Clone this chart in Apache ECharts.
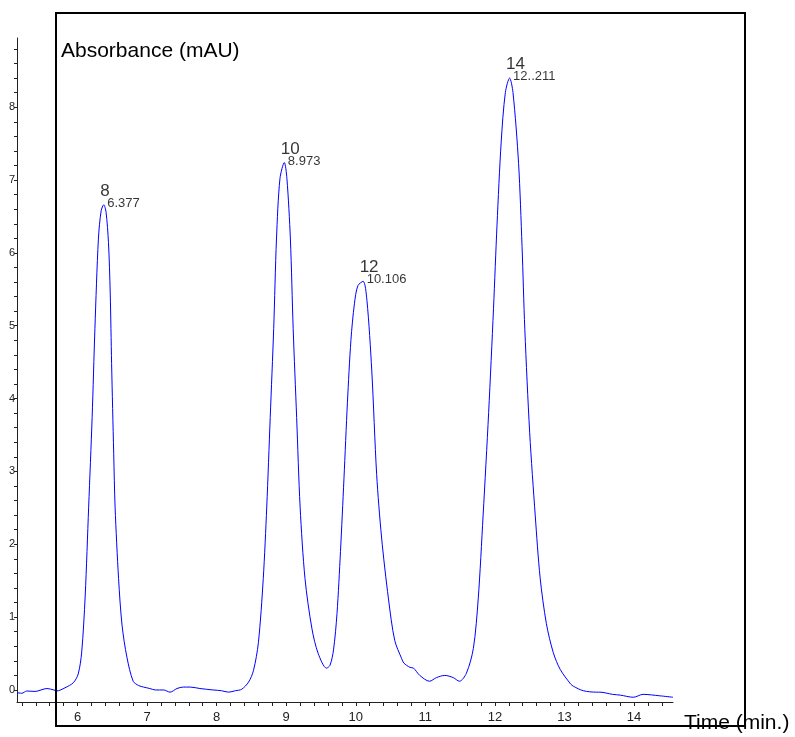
<!DOCTYPE html>
<html>
<head>
<meta charset="utf-8">
<script src="https://cdn.jsdelivr.net/npm/echarts@6/dist/echarts.min.js"></script>
<style>
html,body{margin:0;padding:0;background:#fff;}
#chart{width:795px;height:737px;}
</style>
</head>
<body>
<div id="chart"></div>
<script>
// Retention time (min.)
const times = [5.13,5.20,5.27,5.39,5.56,5.66,5.70,5.82,5.94,6.01,6.06,6.11,6.16,6.21,6.25,6.30,6.34,6.377,6.41,6.445,6.47,6.49,6.52,6.54,6.59,6.64,6.71,6.80,6.88,6.95,7.04,7.12,7.24,7.33,7.43,7.52,7.62,7.76,7.95,8.07,8.17,8.27,8.36,8.46,8.53,8.60,8.67,8.72,8.77,8.82,8.86,8.91,8.973,9.01,9.06,9.10,9.15,9.20,9.27,9.37,9.46,9.58,9.63,9.68,9.73,9.78,9.83,9.88,9.93,9.98,10.03,10.106,10.16,10.23,10.30,10.37,10.47,10.56,10.66,10.69,10.78,10.83,10.92,11.06,11.16,11.28,11.40,11.49,11.59,11.69,11.76,11.83,11.91,11.98,12.03,12.09,12.15,12.211,12.26,12.34,12.39,12.43,12.50,12.58,12.65,12.74,12.84,12.94,13.09,13.13,13.27,13.46,13.51,13.69,13.80,13.99,14.13,14.37,14.56];
// Absorbance (mAU)
const absorbance = [-0.037,-0.045,-0.014,-0.02,0.02,0.0,-0.014,0.03,0.10,0.22,0.52,1.29,2.51,3.74,4.96,6.19,6.58,6.66,6.56,6.14,5.45,4.48,3.25,2.51,1.53,0.89,0.45,0.12,0.06,0.04,0.02,0.0,0.0,-0.03,0.02,0.04,0.04,0.02,0.0,-0.01,-0.03,-0.01,0.01,0.11,0.27,0.65,1.53,2.51,3.74,4.96,6.19,7.02,7.24,7.02,6.19,4.96,3.74,2.51,1.53,0.84,0.50,0.30,0.34,0.55,1.05,1.9,2.9,3.95,4.8,5.3,5.55,5.61,5.35,4.38,2.96,2.10,1.25,0.68,0.43,0.37,0.31,0.30,0.20,0.12,0.17,0.20,0.17,0.12,0.23,0.57,1.25,2.39,3.81,5.24,6.38,7.52,8.20,8.40,8.20,7.23,6.09,4.95,3.53,2.39,1.54,0.91,0.51,0.28,0.08,0.05,-0.01,-0.03,-0.03,-0.06,-0.07,-0.10,-0.06,-0.08,-0.10];

// Peaks
const peakTimes = [6.377, 8.973, 10.106, 12.211];
const peakHeights = [6.66, 7.24, 5.61, 8.40];
const peakNumbers = ['8', '10', '12', '14'];
const peakTimeLabels = ['6.377', '8.973', '10.106', '12..211'];

// Axis ticks and labels
const xLabelValues = [6, 7, 8, 9, 10, 11, 12, 13, 14];
const yLabelValues = [0, 1, 2, 3, 4, 5, 6, 7, 8];
const xTickValues = [];
for (let i = 26; i <= 72; i++) xTickValues.push(Math.round(i * 2) / 10);
const yTickValues = [];
for (let i = 0; i <= 44; i++) yTickValues.push(Math.round(i * 2) / 10);

const FONT = 'Liberation Sans, Arial, Helvetica, sans-serif';
const chart = echarts.init(document.getElementById('chart'), null, {renderer: 'canvas'});

const lineData = times.map((t, i) => [t, absorbance[i]]);
const peakNumData = peakTimes.map((t, i) => ({value: [t, peakHeights[i]], name: peakNumbers[i]}));
const peakTimeData = peakTimes.map((t, i) => ({value: [t, peakHeights[i]], name: peakTimeLabels[i]}));

chart.setOption({
  animation: false,
  backgroundColor: '#fff',
  grid: {left: 17, top: 38, width: 656, height: 664, containLabel: false},
  xAxis: {
    type: 'value', min: 5.13, max: 14.56,
    axisLine: {show: true, onZero: false, lineStyle: {color: '#222', width: 1}},
    axisTick: {show: true, customValues: xTickValues, length: 4, lineStyle: {color: '#222'}},
    axisLabel: {customValues: xLabelValues, fontSize: 13, color: '#222', margin: 9, fontFamily: FONT},
    splitLine: {show: false}
  },
  yAxis: {
    type: 'value', min: -0.165, max: 8.95,
    axisLine: {show: true, onZero: false, lineStyle: {color: '#222', width: 1}},
    axisTick: {show: true, customValues: yTickValues, length: 3, lineStyle: {color: '#222'}},
    axisLabel: {customValues: yLabelValues, fontSize: 11, color: '#222', margin: 2, fontFamily: FONT},
    splitLine: {show: false}
  },
  series: [
    {
      type: 'line', data: lineData, showSymbol: false, smooth: 0.3,
      lineStyle: {color: '#0000ff', width: 1}, silent: true, z: 2
    },
    {
      type: 'scatter', data: peakNumData, symbolSize: 1, itemStyle: {color: 'rgba(0,0,0,0)'}, silent: true,
      label: {show: true, formatter: p => p.name, position: [-3, -13], align: 'left', verticalAlign: 'middle',
        fontSize: 17, color: '#000', fontFamily: FONT}
    },
    {
      type: 'scatter', data: peakTimeData, symbolSize: 1, itemStyle: {color: 'rgba(0,0,0,0)'}, silent: true,
      label: {show: true, formatter: p => p.name, position: [4, -1], align: 'left', verticalAlign: 'middle',
        fontSize: 13, color: '#000', fontFamily: FONT}
    }
  ],
  graphic: [
    {type: 'rect', shape: {x: 56, y: 13, width: 689, height: 713}, style: {fill: 'none', stroke: '#000', lineWidth: 2}, z: 100, silent: true},
    {type: 'text', x: 61, y: 51, style: {text: 'Absorbance (mAU)', font: '21px ' + FONT, fill: '#000', verticalAlign: 'middle', align: 'left'}, z: 101},
    {type: 'text', x: 684, y: 723, style: {text: 'Time (min.)', font: '21px ' + FONT, fill: '#000', verticalAlign: 'middle', align: 'left'}, z: 101}
  ]
});
</script>
</body>
</html>
